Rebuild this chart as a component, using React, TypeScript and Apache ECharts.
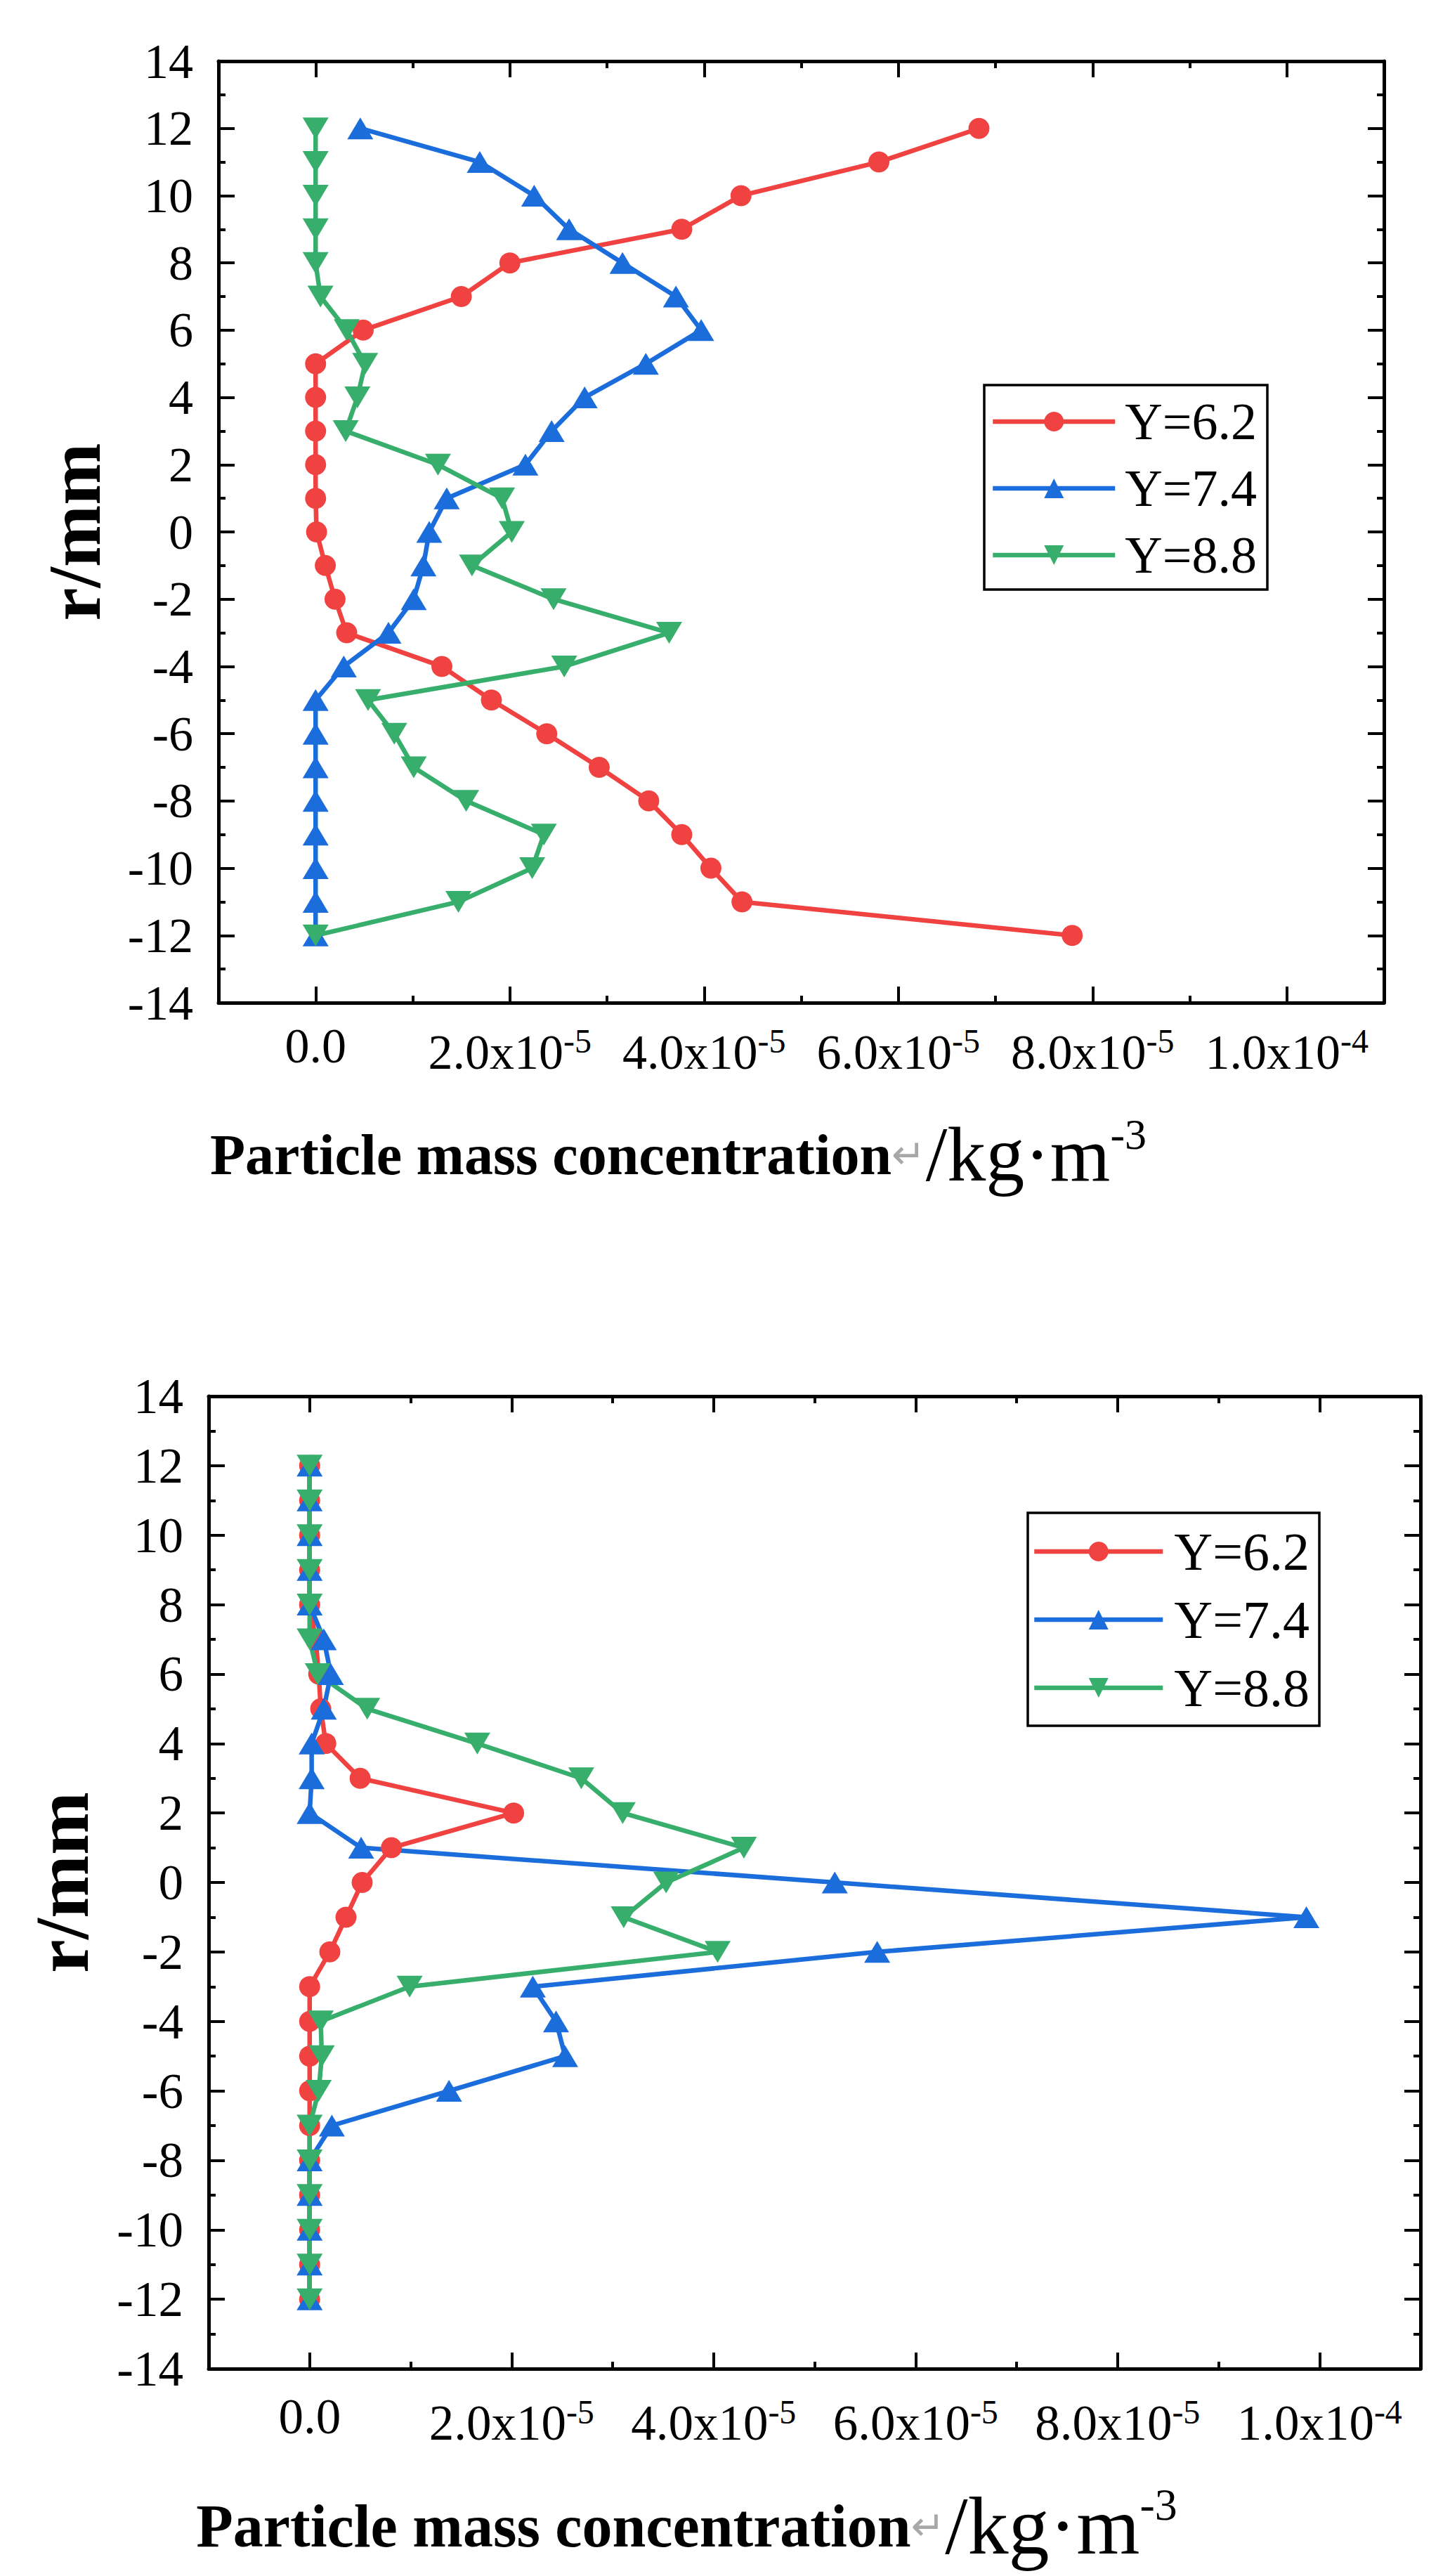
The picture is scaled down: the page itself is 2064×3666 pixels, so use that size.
import { useEffect, useRef } from "react";
import * as echarts from "echarts";

// radial position r (mm), same for every profile
const rValues = [12, 11, 10, 9, 8, 7, 6, 5, 4, 3, 2, 1, 0, -1, -2, -3, -4, -5, -6, -7, -8, -9, -10, -11, -12];

// particle mass concentration, in units of 1e-5 kg/m3
const topY62 = [6.83, 5.8, 4.38, 3.77, 2.0, 1.5, 0.49, 0, 0, 0, 0, 0, 0.01, 0.1, 0.2, 0.32, 1.3, 1.81, 2.38, 2.92, 3.43, 3.77, 4.07, 4.39, 7.79];
const topY74 = [0.46, 1.69, 2.25, 2.61, 3.16, 3.71, 3.97, 3.4, 2.77, 2.43, 2.16, 1.35, 1.17, 1.11, 1.01, 0.75, 0.29, 0, 0, 0, 0, 0, 0, 0, 0];
const topY88 = [0, 0, 0, 0, 0, 0.05, 0.32, 0.51, 0.43, 0.31, 1.26, 1.92, 2.02, 1.61, 2.45, 3.64, 2.56, 0.54, 0.81, 1.01, 1.55, 2.35, 2.23, 1.47, 0];

const bottomY62 = [0, 0, 0, 0, 0, 0.06, 0.09, 0.11, 0.16, 0.5, 2.02, 0.81, 0.52, 0.36, 0.2, 0, 0, 0, 0, 0, 0, 0, 0, 0, 0];
const bottomY74 = [0, 0, 0, 0, 0, 0.14, 0.21, 0.14, 0.02, 0.02, 0, 0.51, 5.2, 9.87, 5.62, 2.21, 2.44, 2.53, 1.38, 0.22, 0, 0, 0, 0, 0];
const bottomY88 = [0, 0, 0, 0, 0, 0, 0.08, 0.57, 1.66, 2.69, 3.1, 4.3, 3.53, 3.11, 4.04, 0.99, 0.11, 0.12, 0.09, 0, 0, 0, 0, 0, 0];

const seriesNames = ["Y=6.2", "Y=7.4", "Y=8.8"];
const seriesColors = ["#F14242", "#1B6DDC", "#37AE6B"];
const seriesSymbols = ["circle", "triangle", "path://M0 0L36 0L18 30Z"];
const seriesSymbolSizes: any[] = [30, [37, 31], [37, 31]];

const xMajorTicks = [0, 2, 4, 6, 8, 10];
const xTickMantissa = ["0.0", "2.0x10", "4.0x10", "6.0x10", "8.0x10", "1.0x10"];
const xTickExponent = ["", "-5", "-5", "-5", "-5", "-4"];

const SERIF = "'Liberation Serif', 'Times New Roman', serif";

const xTickFormatter = (v: number) => {
  const i = xMajorTicks.indexOf(v);
  if (i < 0) return "";
  if (!xTickExponent[i]) return `{z|${xTickMantissa[i]}}`;
  return `{m|${xTickMantissa[i]}}{s|${xTickExponent[i]}}`;
};

interface PanelStyle {
  grid: number;
  tickFont: number;
  labelMargin: number;
  nameGap: number;
  namePad: number;
  boldFont: number;
  unitFont: number;
  supFont: number;
  supLine: number;
  nameLine: number;
  yNameFont: number;
  yNameGap: number;
}

function buildXAxes(s: PanelStyle) {
  const line = { show: true, onZero: false, lineStyle: { color: "#000", width: 5 } };
  const tickLine = { color: "#000", width: 4 };
  const base = { type: "value", gridIndex: s.grid, min: -1, max: 11, splitLine: { show: false } };
  return [
    {
      ...base,
      position: "bottom",
      axisLine: line,
      axisTick: { inside: true, length: 23, customValues: xMajorTicks, lineStyle: tickLine },
      axisLabel: {
        customValues: xMajorTicks,
        margin: s.labelMargin,
        formatter: xTickFormatter,
        rich: {
          m: { fontFamily: SERIF, fontSize: s.tickFont, lineHeight: 80, color: "#000" },
          z: { fontFamily: SERIF, fontSize: s.tickFont, lineHeight: 62, color: "#000" },
          s: { fontFamily: SERIF, fontSize: 48, lineHeight: 46, verticalAlign: "top", color: "#000" },
        },
      },
      name: "{b|Particle mass concentration}{g|\u21B5}{r|/kg\u00B7m}{s|-3}",
      nameLocation: "middle",
      nameGap: s.nameGap,
      nameMoveOverlap: false,
      nameTextStyle: {
        verticalAlign: "middle",
        padding: [0, s.namePad, 0, 0],
        rich: {
          b: { fontFamily: SERIF, fontWeight: "bold", fontSize: s.boldFont, lineHeight: s.nameLine, color: "#000" },
          g: { fontFamily: "'DejaVu Sans', sans-serif", fontSize: 58, lineHeight: s.nameLine, color: "#A8A8A8" },
          r: { fontFamily: SERIF, fontSize: s.unitFont, lineHeight: s.nameLine, color: "#000" },
          s: { fontFamily: SERIF, fontSize: s.supFont, lineHeight: s.supLine, verticalAlign: "top", color: "#000" },
        },
      },
    },
    {
      ...base,
      position: "bottom",
      interval: 1,
      axisLine: { show: false, onZero: false },
      axisTick: { inside: true, length: 10, lineStyle: tickLine },
      axisLabel: { show: false },
    },
    {
      ...base,
      position: "top",
      axisLine: line,
      axisTick: { inside: true, length: 23, customValues: xMajorTicks, lineStyle: tickLine },
      axisLabel: { show: false },
    },
    {
      ...base,
      position: "top",
      interval: 1,
      axisLine: { show: false, onZero: false },
      axisTick: { inside: true, length: 10, lineStyle: tickLine },
      axisLabel: { show: false },
    },
  ];
}

function buildYAxes(s: PanelStyle) {
  const line = { show: true, onZero: false, lineStyle: { color: "#000", width: 5 } };
  const tickLine = { color: "#000", width: 4 };
  const base = {
    type: "value",
    gridIndex: s.grid,
    min: -14,
    max: 14,
    interval: 2,
    axisLine: line,
    axisTick: { inside: true, length: 23, lineStyle: tickLine },
    minorTick: { show: true, splitNumber: 2, length: 10, lineStyle: tickLine },
    splitLine: { show: false },
    minorSplitLine: { show: false },
  };
  return [
    {
      ...base,
      position: "left",
      axisLabel: { fontFamily: SERIF, fontSize: s.tickFont, color: "#000", margin: 36 },
      name: "r/mm",
      nameLocation: "middle",
      nameGap: s.yNameGap,
      nameMoveOverlap: false,
      nameTextStyle: {
        fontFamily: SERIF,
        fontWeight: "bold",
        fontSize: s.yNameFont,
        color: "#000",
        verticalAlign: "middle",
      },
    },
    { ...base, position: "right", axisLabel: { show: false } },
  ];
}

function buildSeries(values: number[][], xAxisIndex: number, yAxisIndex: number) {
  return values.map((vals, k) => ({
    name: seriesNames[k],
    type: "line",
    xAxisIndex,
    yAxisIndex,
    data: rValues.map((r, i) => [vals[i], r]),
    symbol: seriesSymbols[k],
    symbolSize: seriesSymbolSizes[k],
    showSymbol: true,
    color: seriesColors[k],
    lineStyle: { color: seriesColors[k], width: 6.5 },
    itemStyle: { color: seriesColors[k] },
  }));
}

function buildLegend(left: number, top: number, padding: number[], itemWidth: number, fontSize: number, textPad: number) {
  return {
    orient: "vertical",
    left,
    top,
    padding,
    itemWidth,
    itemHeight: 35,
    itemGap: 21,
    borderWidth: 0,
    data: seriesNames,
    lineStyle: { width: 6.5 },
    textStyle: { fontFamily: SERIF, fontSize, lineHeight: fontSize, color: "#000", padding: [0, 0, 0, textPad] },
  };
}

// legend frames, drawn as plain rectangles
const legendFrames = [
  { x: 1401, y: 548, width: 403, height: 291 },
  { x: 1463, y: 2153, width: 415, height: 303 },
];

const topStyle: PanelStyle = {
  grid: 0,
  tickFont: 70,
  labelMargin: 30,
  nameGap: 216,
  namePad: 350,
  boldFont: 82,
  unitFont: 110,
  supFont: 62,
  supLine: 62,
  nameLine: 120,
  yNameFont: 106,
  yNameGap: 205,
};

const bottomStyle: PanelStyle = {
  grid: 1,
  tickFont: 71,
  labelMargin: 37,
  nameGap: 224,
  namePad: 364,
  boldFont: 86,
  unitFont: 116,
  supFont: 64,
  supLine: 14,
  nameLine: 126,
  yNameFont: 108,
  yNameGap: 209,
};

export default function App() {
  const chartRef = useRef<HTMLDivElement>(null);

  useEffect(() => {
    if (!chartRef.current) return;
    document.body.style.margin = "0";
    const chart = echarts.init(chartRef.current, null, { renderer: "svg" });

    const option = {
      animation: false,
      backgroundColor: "#fff",
      grid: [
        { left: 311, top: 87, width: 1659, height: 1340, containLabel: false },
        { left: 297, top: 1987, width: 1725, height: 1384, containLabel: false },
      ],
      xAxis: [...buildXAxes(topStyle), ...buildXAxes(bottomStyle)],
      yAxis: [...buildYAxes(topStyle), ...buildYAxes(bottomStyle)],
      legend: [
        buildLegend(1401, 548, [15, 18, 14, 9], 174, 74, 9),
        buildLegend(1463, 2153, [17, 15, 16, 6], 183, 76, 11),
      ],
      graphic: legendFrames.map((f) => ({
        type: "rect",
        shape: f,
        z: 100,
        silent: true,
        style: { fill: "none", stroke: "#000", lineWidth: 3.5 },
      })),
      series: [
        ...buildSeries([topY62, topY74, topY88], 0, 0),
        ...buildSeries([bottomY62, bottomY74, bottomY88], 4, 2),
      ],
    };

    chart.setOption(option as any);

    return () => {
      chart.dispose();
    };
  }, []);

  return <div ref={chartRef} style={{ width: 2064, height: 3666 }} />;
}
